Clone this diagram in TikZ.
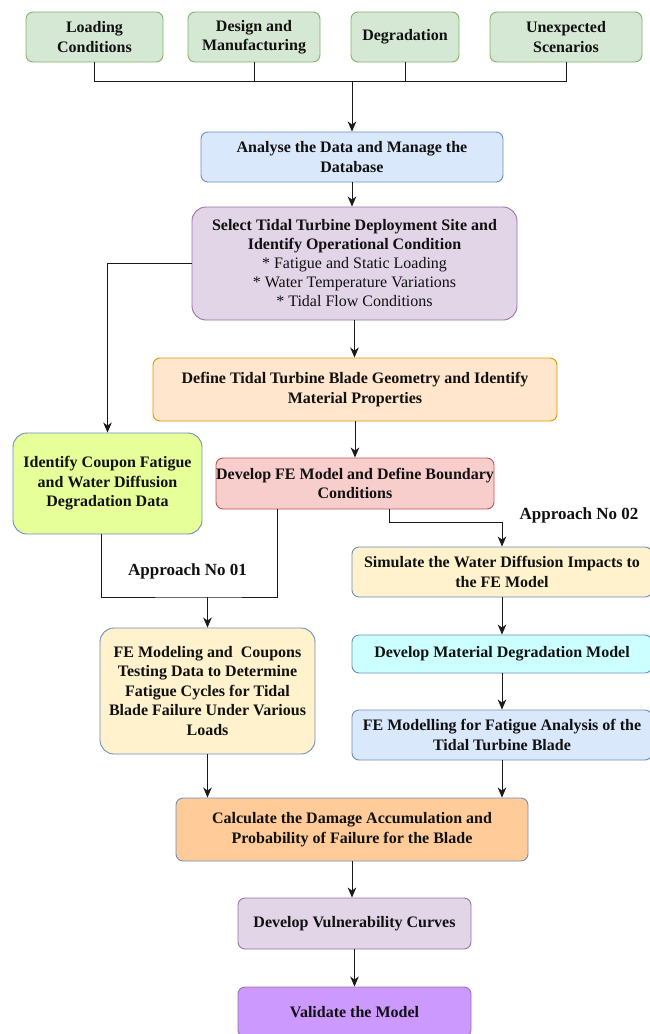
\documentclass[tikz,border=0pt]{standalone}
\usepackage{fontspec}
\setmainfont{Liberation Serif}
\usepackage{xcolor}
\usepackage{tikz}
\usetikzlibrary{arrows.meta}
\definecolor{ink}{HTML}{111111}
\definecolor{wire}{HTML}{1A1A1A}
\definecolor{greenfill}{HTML}{D5E8D4}
\definecolor{greenline}{HTML}{82B366}
\definecolor{bluefill}{HTML}{DAE8FC}
\definecolor{blueline}{HTML}{6C8EBF}
\definecolor{purplefill}{HTML}{E1D5E7}
\definecolor{purpleline}{HTML}{9673A6}
\definecolor{orangefill}{HTML}{FFE6CC}
\definecolor{orangeline}{HTML}{D79B00}
\definecolor{limefill}{HTML}{E6FF99}
\definecolor{redfill}{HTML}{F8CECC}
\definecolor{redline}{HTML}{B85450}
\definecolor{yellowfill}{HTML}{FFF2CC}
\definecolor{cyanfill}{HTML}{CCFFFF}
\definecolor{peachfill}{HTML}{FFCC99}
\definecolor{violetfill}{HTML}{CC99FF}

\begin{document}
\begin{tikzpicture}[x=1pt,y=-1pt,
  every node/.style={align=center,text=ink,font=\fontsize{16}{19.5}\selectfont\bfseries},
  box/.style={draw,rounded corners=7pt,line width=0.9pt,inner sep=0pt},
  tallbox/.style={box,rounded corners=14pt},
  source/.style={box,draw=greenline,fill=greenfill,minimum height=50pt},
  edge/.style={-{Stealth[length=10pt,width=8.5pt,inset=3pt]},draw=wire,line width=1pt},
  link/.style={draw=wire,line width=1pt},
  tag/.style={inner sep=1pt,font=\fontsize{17}{20}\selectfont\bfseries}
]
\useasboundingbox (0,0) rectangle (650,1034);

\node[source,minimum width=137pt] (load) at (94.5,37) {Loading\\Conditions};
\node[source,minimum width=132pt] (design) at (254,37) {Design and\\Manufacturing};
\node[source,minimum width=108pt] (degrad) at (405,37) {Degradation};
\node[source,minimum width=152pt] (unexp) at (566,37) {Unexpected\\Scenarios};
\coordinate (hub) at (352,81);

\node[box,draw=blueline,fill=bluefill,minimum width=302pt,minimum height=50pt] (analyse) at (352,157) {Analyse the Data and Manage the\\Database};
\node[tallbox,draw=purpleline,fill=purplefill,minimum width=325pt,minimum height=113pt,
  font=\fontsize{16}{19}\selectfont] (select) at (354.5,263.5)
  {\textbf{Select Tidal Turbine Deployment Site and}\\\textbf{Identify Operational Condition}\\* Fatigue and Static Loading\\* Water Temperature Variations\\* Tidal Flow Conditions};
\node[box,draw=orangeline,fill=orangefill,minimum width=404pt,minimum height=63pt] (define) at (355,389.5) {Define Tidal Turbine Blade Geometry and Identify\\Material Properties};

\node[tallbox,draw=blueline,fill=limefill,minimum width=189pt,minimum height=101pt] (coupon) at (107.5,483.5) {Identify Coupon Fatigue\\and Water Diffusion\\Degradation Data};
\node[box,draw=redline,fill=redfill,minimum width=278pt,minimum height=51pt] (devfe) at (355,483.5) {Develop FE Model and Define Boundary\\Conditions};

\node[tag] (app1) at (187.5,571) {Approach No 01};
\node[tag] (app2) at (579,515) {Approach No 02};

\node[box,draw=blueline,fill=yellowfill,minimum width=300pt,minimum height=50pt] (simulate) at (502,572) {Simulate the Water Diffusion Impacts to\\the FE Model};
\node[box,draw=blueline,fill=cyanfill,minimum width=300pt,minimum height=38pt] (devmat) at (502,654) {Develop Material Degradation Model};
\node[box,draw=blueline,fill=bluefill,minimum width=300pt,minimum height=50pt] (femodel) at (502,735) {FE Modelling for Fatigue Analysis of the\\Tidal Turbine Blade};
\node[tallbox,draw=blueline,fill=yellowfill,minimum width=215pt,minimum height=126pt] (femod) at (207.5,691) {FE Modeling and\ \ Coupons\\Testing Data to Determine\\Fatigue Cycles for Tidal\\Blade Failure Under Various\\Loads};
\coordinate (join) at (207.5,597);

\node[box,draw=blueline,fill=peachfill,minimum width=352pt,minimum height=63pt] (calc) at (352,829.5) {Calculate the Damage Accumulation and\\Probability of Failure for the Blade};
\node[box,draw=purpleline,fill=purplefill,minimum width=233pt,minimum height=51pt] (vuln) at (354.5,923.5) {Develop Vulnerability Curves};
\node[box,draw=purpleline,fill=violetfill,minimum width=233pt,minimum height=50pt] (valid) at (354.5,1012) {Validate the Model};

% inputs merge into the database step
\foreach \s in {load,design,degrad,unexp}
  \draw[link] (\s.south) |- (hub);
\draw[edge] (hub) -- (analyse.north);

\foreach \a/\b in {analyse/select,select/define,define/devfe,simulate/devmat,devmat/femodel,femod/calc,femodel/calc,calc/vuln,vuln/valid}
  \draw[edge] (\a.south) -- (\a.south |- \b.north);

\draw[edge] (select.west) -| (coupon.north);
% approach 01
\draw[link] ([xshift=-6pt]coupon.south) |- (join) -| ([xshift=-78pt]devfe.south);
\draw[edge] (join) -- (femod.north);
% approach 02
\draw[edge] ([xshift=34pt]devfe.south) -- ++(0,13) -| (simulate.north);
\end{tikzpicture}
\end{document}
